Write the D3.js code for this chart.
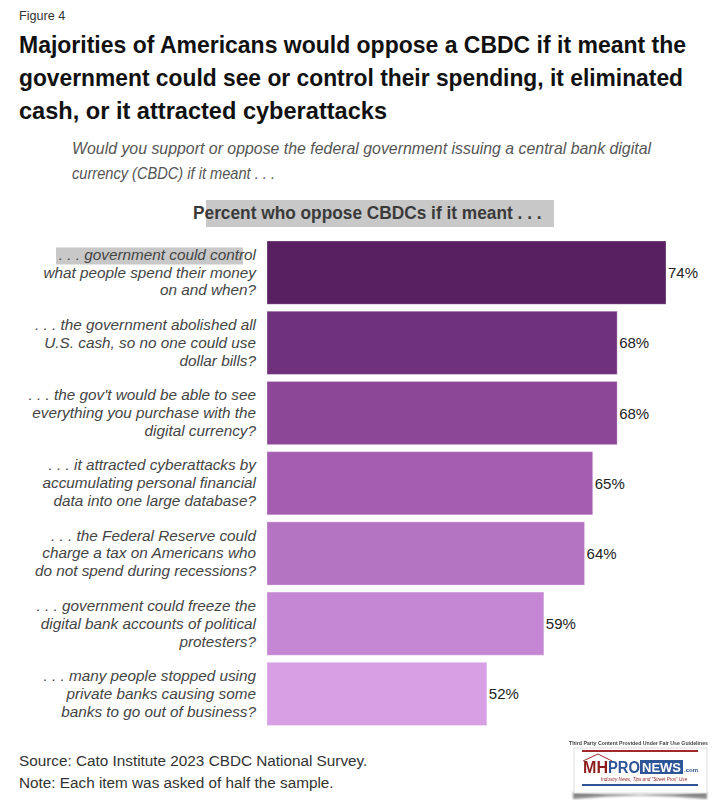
<!DOCTYPE html>
<html>
<head>
<meta charset="utf-8">
<script src="https://cdn.jsdelivr.net/npm/d3@7/dist/d3.min.js"></script>
<style>
    html, body { margin: 0; padding: 0; background: #fff; }
    svg { display: block; }
</style>
</head>
<body>
<div id="chart"></div>
<script>
// Chart data
const categories = ['control', 'abolished', 'see', 'cyberattacks', 'tax', 'freeze', 'banks'];
const categoryLines = [
    ['. . . government could control', 'what people spend their money', 'on and when?'],
    ['. . . the government abolished all', 'U.S. cash, so no one could use', 'dollar bills?'],
    [". . . the gov't would be able to see", 'everything you purchase with the', 'digital currency?'],
    ['. . . it attracted cyberattacks by', 'accumulating personal financial', 'data into one large database?'],
    ['. . . the Federal Reserve could', 'charge a tax on Americans who', 'do not spend during recessions?'],
    ['. . . government could freeze the', 'digital bank accounts of political', 'protesters?'],
    ['. . . many people stopped using', 'private banks causing some', 'banks to go out of business?']
];
const opposeValues = [74, 68, 68, 65, 64, 59, 52];
const barColors = ['#581f61', '#70317c', '#8c4796', '#a55db2', '#b574c2', '#c587d3', '#d79fe4'];
const titleLines = [
    'Majorities of Americans would oppose a CBDC if it meant the',
    'government could see or control their spending, it eliminated',
    'cash, or it attracted cyberattacks'
];
const questionLines = [
    'Would you support or oppose the federal government issuing a central bank digital',
    'currency (CBDC) if it meant . . .'
];
const noteLines = [
    'Source: Cato Institute 2023 CBDC National Survey.',
    'Note: Each item was asked of half the sample.'
];

const width = 716;
const height = 807;
const sans = '"Liberation Sans", Arial, sans-serif';

const titleWidths = [667, 664, 368];
const questionWidths = [579, 203];

const svg = d3.select('#chart').append('svg')
    .attr('width', width)
    .attr('height', height);

// Squeeze text sideways by a ratio
function condense(sel, ratio) {
    sel.each(function() {
        const w = this.getComputedTextLength();
        d3.select(this).attr('textLength', w * ratio).attr('lengthAdjust', 'spacingAndGlyphs');
    });
}

// The bars sit on a truncated axis, 25 percent is the left edge
const x = d3.scaleLinear().domain([25, 74]).range([267, 666]);
const y = d3.scaleBand().domain(categories).range([237.5, 729]).paddingInner(0.1).paddingOuter(0.05);

// Header
svg.append('text').attr('x', 19).attr('y', 20)
    .attr('font-family', sans).attr('font-size', 13).attr('fill', '#333')
    .text('Figure 4')
    .call(condense, 0.97);

svg.append('g').selectAll('text').data(titleLines).enter().append('text')
    .attr('x', 19)
    .attr('y', (d, i) => 53 + i * 32.8)
    .attr('font-family', sans).attr('font-weight', 700).attr('font-size', 23.4).attr('fill', '#111')
    .attr('textLength', (d, i) => titleWidths[i])
    .attr('lengthAdjust', 'spacingAndGlyphs')
    .text(d => d);

svg.append('g').selectAll('text').data(questionLines).enter().append('text')
    .attr('x', 72)
    .attr('y', (d, i) => 154 + i * 25)
    .attr('font-family', sans).attr('font-style', 'italic').attr('font-size', 17).attr('fill', '#555')
    .attr('textLength', (d, i) => questionWidths[i])
    .attr('lengthAdjust', 'spacingAndGlyphs')
    .text(d => d);

// Grey blocks behind the headings
svg.append('rect').attr('x', 206).attr('y', 200).attr('width', 348).attr('height', 27).attr('fill', '#c8c8c8');
svg.append('rect').attr('x', 56).attr('y', 247.5).attr('width', 187).attr('height', 17).attr('fill', '#c8c8c8');

svg.append('text').attr('x', 193).attr('y', 219)
    .attr('font-family', sans).attr('font-weight', 700).attr('font-size', 18).attr('fill', '#3a3a3a')
    .text('Percent who oppose CBDCs if it meant . . .')
    .call(condense, 0.96);

// Bars
svg.append('g').selectAll('rect').data(opposeValues).enter().append('rect')
    .attr('x', x(25))
    .attr('y', (d, i) => y(categories[i]))
    .attr('width', d => x(d) - x(25))
    .attr('height', y.bandwidth())
    .attr('fill', (d, i) => barColors[i])
    .attr('stroke', '#fff')
    .attr('stroke-opacity', 0.3);

// Value labels
svg.append('g').selectAll('text').data(opposeValues).enter().append('text')
    .attr('x', d => x(d) + 2)
    .attr('y', (d, i) => y(categories[i]) + y.bandwidth() / 2 + 5.5)
    .attr('font-family', sans).attr('font-size', 15).attr('fill', '#222')
    .text(d => d + '%');

// Category labels, right aligned against the bars
const catGroups = svg.append('g').selectAll('g').data(categoryLines).enter().append('g')
    .attr('transform', (d, i) => `translate(256, ${y(categories[i]) + y.bandwidth() / 2})`);

catGroups.selectAll('text').data(d => d).enter().append('text')
    .attr('x', 0)
    .attr('y', (d, i) => (i - 1) * 17.9 + 5)
    .attr('text-anchor', 'end')
    .attr('font-family', sans).attr('font-style', 'italic').attr('font-size', 15.3).attr('fill', '#444')
    .text(d => d);

// Footer
svg.append('g').selectAll('text').data(noteLines).enter().append('text')
    .attr('x', 19)
    .attr('y', (d, i) => 766 + i * 22)
    .attr('font-family', sans).attr('font-size', 15.3).attr('fill', '#333')
    .text(d => d);

// Watermark badge, a bit soft like the pasted image in the reference
const defs = svg.append('defs');
defs.append('filter').attr('id', 'soft').append('feGaussianBlur').attr('stdDeviation', 0.35);
defs.append('filter').attr('id', 'softer').append('feGaussianBlur').attr('stdDeviation', 1.2);

const badge = svg.append('g').attr('filter', 'url(#soft)');
badge.append('path').attr('d', 'M573 792 Q640 797 707 792 L707 799 Q640 792 573 799 Z')
    .attr('fill', '#888').attr('filter', 'url(#softer)');
badge.append('rect').attr('x', 574).attr('y', 748).attr('width', 133).attr('height', 45)
    .attr('fill', '#fff').attr('stroke', '#ddd');
badge.append('text').attr('x', 569).attr('y', 745)
    .attr('font-family', sans).attr('font-weight', 700).attr('font-size', 5.2).attr('fill', '#444')
    .attr('textLength', 139).attr('lengthAdjust', 'spacingAndGlyphs')
    .text('Third Party Content Provided Under Fair Use Guidelines');
badge.append('rect').attr('x', 582).attr('y', 750).attr('width', 116).attr('height', 2).attr('fill', '#a02c2c');
badge.append('rect').attr('x', 582).attr('y', 784).attr('width', 116).attr('height', 2).attr('fill', '#2f5597');
badge.append('path').attr('d', 'M583 761 L598 754 L612 761')
    .attr('fill', 'none').attr('stroke', '#a02c2c').attr('stroke-width', 1);
badge.append('text').attr('x', 583).attr('y', 773)
    .attr('font-family', sans).attr('font-weight', 700).attr('font-size', 16).attr('fill', '#8e1f1f')
    .attr('textLength', 25).attr('lengthAdjust', 'spacingAndGlyphs')
    .text('MH');
badge.append('text').attr('x', 608).attr('y', 773)
    .attr('font-family', sans).attr('font-weight', 700).attr('font-size', 16).attr('fill', '#2f5597')
    .attr('textLength', 32).attr('lengthAdjust', 'spacingAndGlyphs')
    .text('PRO');
badge.append('rect').attr('x', 640).attr('y', 760).attr('width', 43).attr('height', 14).attr('fill', '#2f5597');
badge.append('text').attr('x', 642).attr('y', 772)
    .attr('font-family', sans).attr('font-weight', 700).attr('font-size', 13).attr('fill', '#fff')
    .attr('textLength', 39).attr('lengthAdjust', 'spacingAndGlyphs')
    .text('NEWS');
badge.append('text').attr('x', 684).attr('y', 772)
    .attr('font-family', sans).attr('font-weight', 700).attr('font-size', 6).attr('fill', '#2f5597')
    .text('.com');
badge.append('text').attr('x', 601).attr('y', 781)
    .attr('font-family', sans).attr('font-style', 'italic').attr('font-size', 4.6).attr('fill', '#8e1f1f')
    .text('Industry News, Tips and "Street Pros" Use');
</script>
</body>
</html>
